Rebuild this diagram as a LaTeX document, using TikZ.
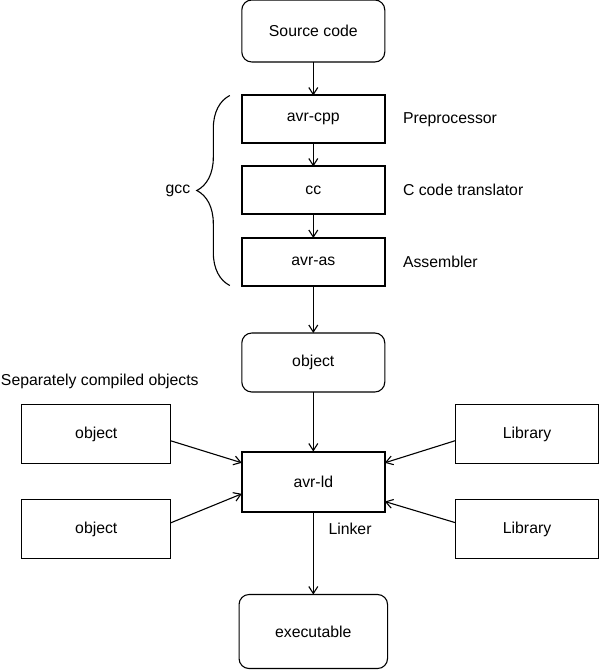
\documentclass[tikz,border=0pt]{standalone}
\usepackage{fontspec}
\setmainfont{Liberation Sans}
\usetikzlibrary{arrows.meta,calc,positioning,decorations.pathreplacing}

\begin{document}
\begin{tikzpicture}[font=\fontsize{15.8}{19}\selectfont,
  term/.style={draw,line width=1.1pt,rounded corners=10pt,outer sep=0pt,
    minimum width=143pt,minimum height=62pt,inner sep=0pt},
  stage/.style={draw,line width=2pt,outer sep=0pt,
    minimum width=143pt,minimum height=47.5pt,inner sep=0pt},
  side/.style={draw,line width=1.1pt,outer sep=0pt,
    minimum width=149pt,minimum height=59pt,inner sep=0pt},
  lbl/.style={inner sep=0pt},
  arr/.style={-{Straight Barb[length=7pt,width=9pt]},line width=1.1pt}]
  \useasboundingbox (0,0) rectangle (600pt,-671pt);
  % compiler chain
  \node[term] (src) at (313.3pt,-31pt) {Source code};
  \node[stage,below=33.5pt of src] (cpp) {avr-cpp};
  \node[stage,below=23.5pt of cpp] (cc) {cc};
  \node[stage,below=24pt of cc] (as) {avr-as};
  \node[term,below=47.5pt of as,minimum height=59pt] (obj) {object};
  \node[stage,below=59.5pt of obj,minimum height=60pt] (ld) {avr-ld};
  \node[term,below=83pt of ld,minimum width=148.5pt,minimum height=74pt] (exe) {executable};
  % linker inputs
  \node[side,left=71pt of ld,yshift=47.4pt] (oa) {object};
  \node[side,left=71pt of ld,yshift=-47.6pt] (ob) {object};
  \node[side,right=71pt of ld,yshift=47.4pt,minimum width=142.5pt] (la) {Library};
  \node[side,right=71pt of ld,yshift=-47.6pt,minimum width=142.5pt] (lb) {Library};
  % labels
  \node[lbl,right=18pt of cpp] (pre) {Preprocessor};
  \node[lbl,right=18pt of cc] (trans) {C code translator};
  \node[lbl,right=18pt of as] (asm) {Assembler};
  \node[lbl,below right=11.6pt and 15pt of ld.south] (lnk) {Linker};
  \node[lbl,anchor=west] (sep) at ([xshift=-21pt,yshift=23.5pt]oa.north west)
    {Separately compiled objects};
  \draw[line width=1.1pt,decorate,decoration={brace,amplitude=33pt}]
    ([xshift=-12pt]as.south west) -- ([xshift=-12pt]cpp.north west)
    node[lbl,midway,left=39pt] (gcc) {gcc};
  % connectors
  \draw[arr] (src) -- (cpp); \draw[arr] (cpp) -- (cc);
  \draw[arr] (cc) -- (as); \draw[arr] (as) -- (obj);
  \draw[arr] (obj) -- (ld); \draw[arr] (ld) -- (exe);
  \draw[arr] ([yshift=-6.7pt]oa.east) -- ([yshift=18.7pt]ld.west);
  \draw[arr] ([yshift=6.3pt]ob.east) -- ([yshift=-12.3pt]ld.west);
  \draw[arr] ([yshift=-6.4pt]la.west) -- ([yshift=18.7pt]ld.east);
  \draw[arr] ([yshift=6.3pt]lb.west) -- ([yshift=-20pt]ld.east);
\end{tikzpicture}
\end{document}
